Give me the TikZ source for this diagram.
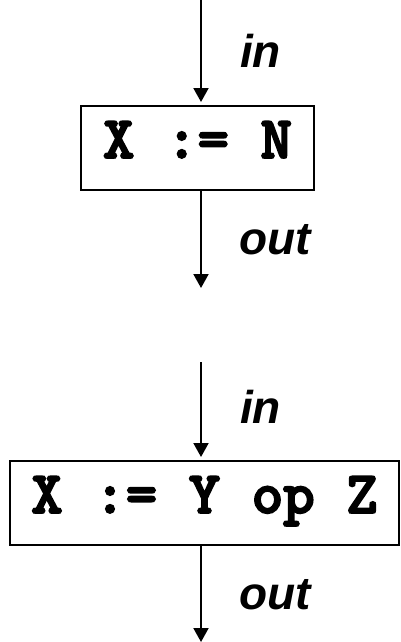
\documentclass[tikz,border=0pt]{standalone}
\usepackage{fontspec}
\setmainfont{Liberation Sans}
\newfontfamily\codefont{lmmonolt10-bold}[Extension=.otf,FakeBold=3]
\usetikzlibrary{arrows.meta}
\begin{document}
\begin{tikzpicture}[x=1pt,y=-1pt,
  stmtbox/.style={draw,line width=2pt,inner sep=0pt},
  code/.style={font=\codefont\fontsize{60}{66}\selectfont,inner sep=0pt,anchor=base},
  lbl/.style={font=\bfseries\itshape\fontsize{46}{52}\selectfont,inner sep=0pt,anchor=base west},
  flow/.style={line width=2pt,-{Triangle[width=15pt,length=14pt]}}]
\useasboundingbox (0,0) rectangle (401,642);
% first statement
\node[stmtbox,minimum width=233pt,minimum height=84pt] (b1) at (197.5,148) {};
\node[code] (c1) at (197.5,158) {X := N};
\coordinate (s1) at (201,0);
\coordinate (e1) at (201,288);
\draw[flow,shorten >=3pt] (s1) -- (s1 |- b1.north);
\draw[flow] (s1 |- b1.south) -- (e1);
\node[lbl] (in1) at (240,67) {in};
\node[lbl] (out1) at (239,254) {out};
% second statement
\node[stmtbox,minimum width=389pt,minimum height=84pt] (b2) at (204.5,503) {};
\node[code] (c2) at (204.5,513) {X := Y op Z};
\coordinate (s2) at (201,362);
\coordinate (e2) at (201,642);
\draw[flow,shorten >=3pt] (s2) -- (s2 |- b2.north);
\draw[flow] (s2 |- b2.south) -- (e2);
\node[lbl] (in2) at (240,423) {in};
\node[lbl] (out2) at (239,609) {out};
\end{tikzpicture}
\end{document}
